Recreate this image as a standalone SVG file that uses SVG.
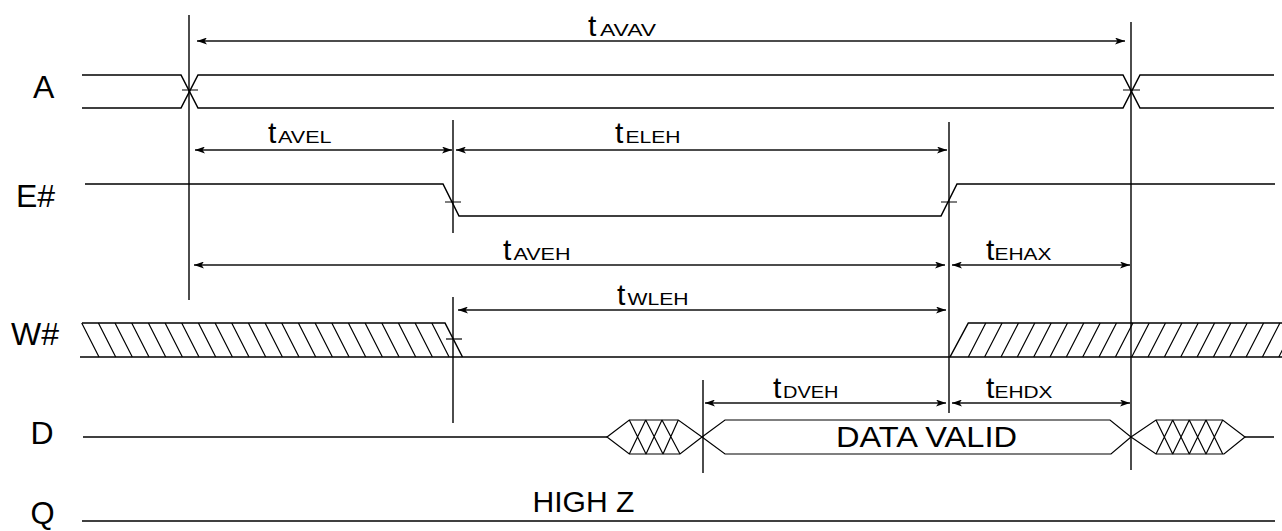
<svg xmlns="http://www.w3.org/2000/svg" width="1282" height="531" viewBox="0 0 1282 531">
<style>
.sig{fill:none;stroke:#000;stroke-width:1.5;stroke-linejoin:miter}
.thin{fill:none;stroke:#000;stroke-width:1.2}
.vl{stroke:#000;stroke-width:1.4}
.ar{stroke:#111;stroke-width:1.3;marker-start:url(#ah);marker-end:url(#ah)}
.lbl{font-family:"Liberation Sans",Arial,sans-serif;font-size:32px;fill:#000}
.big{font-family:"Liberation Sans",Arial,sans-serif;font-size:30px;fill:#000}
.t{font-family:"Liberation Sans",Arial,sans-serif;font-size:30px;fill:#000}
.sub{font-family:"Liberation Sans",Arial,sans-serif;font-size:17px;fill:#000}
</style>
<defs>
<marker id="ah" viewBox="0 0 10 7" refX="10" refY="3.5" markerWidth="10" markerHeight="7" markerUnits="userSpaceOnUse" orient="auto-start-reverse">
<path d="M0,0 L10,3.5 L0,7 L2.5,3.5 Z" fill="#000"/>
</marker>
</defs>
<rect width="1282" height="531" fill="#fff"/>

<g id="signal-A">
<text class="lbl" x="33" y="98">A</text>
<path class="sig" d="M82,75 H181 L198,108 H1123 L1140,75 H1274"/>
<path class="sig" d="M82,108 H181 L198,75 H1123 L1140,108 H1274"/>
<path class="thin" d="M182,90 H198 M1123,90 H1140"/>
</g>

<g id="signal-E">
<text class="lbl" x="16" y="207">E#</text>
<path class="sig" d="M85,184 H443 L459,216 H941 L957,184 H1275"/>
<path class="thin" d="M445,202 H461 M941,202 H957"/>
</g>

<g id="signal-W">
<text class="lbl" x="11" y="345">W#</text>
<path class="sig" d="M80,357 H1282"/>
<path class="sig" d="M82,323 H445 L462.5,357"/>
<path class="thin" d="M81.7,323 L99,357 M98.4,323 L115.7,357 M115,323 L132.3,357 M131.7,323 L149,357 M148.4,323 L165.7,357 M165.1,323 L182.4,357 M181.7,323 L199,357 M198.4,323 L215.7,357 M215.1,323 L232.4,357 M231.7,323 L249,357 M248.4,323 L265.7,357 M265.1,323 L282.4,357 M281.7,323 L299,357 M298.4,323 L315.7,357 M315.1,323 L332.4,357 M331.8,323 L349.1,357 M348.4,323 L365.7,357 M365.1,323 L382.4,357 M381.8,323 L399.1,357 M398.4,323 L415.7,357 M415.1,323 L432.4,357 M431.8,323 L449.1,357"/>
<path class="thin" d="M446,339 H462"/>
<path class="sig" d="M950,357 L968.3,323 H1282"/>
<path class="thin" d="M968.3,357 L985.8,323 M984.6,357 L1002.1,323 M1001,357 L1018.5,323 M1017.3,357 L1034.8,323 M1033.7,357 L1051.2,323 M1050,357 L1067.5,323 M1066.3,357 L1083.8,323 M1082.7,357 L1100.2,323 M1099,357 L1116.5,323 M1115.4,357 L1132.9,323 M1131.7,357 L1149.2,323 M1148,357 L1165.5,323 M1164.4,357 L1181.9,323 M1180.7,357 L1198.2,323 M1197.1,357 L1214.6,323 M1213.4,357 L1230.9,323 M1229.7,357 L1247.2,323 M1246.1,357 L1263.6,323 M1262.4,357 L1279.9,323 M1278.8,357 L1296.3,323"/>
</g>

<g id="signal-D">
<text class="lbl" x="30.5" y="444">D</text>
<path class="sig" d="M83,437 H607"/>
<path class="thin" d="M607,437 L629.3,420 H678.3 L702,437 L680,454 H629.3 Z"/>
<path class="thin" d="M629.3,420 L646,454 M645.7,420 L629.3,454 M645.7,420 L663,454 M662,420 L646,454 M662,420 L680,454 M678.3,420 L663,454"/>
<path class="thin" d="M702,437 L725,420 H1110 L1131,437 L1111,454 H725 Z"/>
<text class="big" x="836" y="447" textLength="181" lengthAdjust="spacingAndGlyphs">DATA VALID</text>
<path class="thin" d="M1131,437 L1156,420 H1222.7 L1245,437 L1224,454 H1156 Z"/>
<path class="thin" d="M1156,420 L1172.7,454 M1172.7,420 L1156,454 M1172.7,420 L1189.3,454 M1189.3,420 L1172.7,454 M1189.3,420 L1206,454 M1206,420 L1189.3,454 M1206,420 L1222.7,454 M1222.7,420 L1206,454"/>
<path class="sig" d="M1245,437 H1274"/>
</g>

<g id="signal-Q">
<text class="lbl" x="30.5" y="524" style="font-size:31px">Q</text>
<path class="sig" d="M82,521 H1275"/>
<text class="big" x="532.5" y="512" textLength="102" lengthAdjust="spacingAndGlyphs">HIGH Z</text>
</g>

<g id="connectors">
<line class="vl" x1="189" y1="15" x2="189" y2="300"/>
<line class="vl" x1="453" y1="120" x2="453" y2="233"/>
<line class="vl" x1="453" y1="297" x2="453" y2="423"/>
<line class="vl" x1="949" y1="122" x2="949" y2="413"/>
<line class="vl" x1="1131" y1="22" x2="1131" y2="470"/>
<line class="vl" x1="703" y1="380" x2="703" y2="473"/>

<line class="ar" x1="197" y1="41" x2="1125" y2="41"/>
<line class="ar" x1="195" y1="150" x2="452" y2="150"/>
<line class="ar" x1="456" y1="150" x2="947" y2="150"/>
<line class="ar" x1="194" y1="265" x2="945" y2="265"/>
<line class="ar" x1="952" y1="265" x2="1130" y2="265"/>
<line class="ar" x1="458" y1="310" x2="946" y2="310"/>
<line class="ar" x1="705" y1="403" x2="946" y2="403"/>
<line class="ar" x1="952" y1="403" x2="1130" y2="403"/>
</g>

<g id="timing-labels">
<text class="t" x="588" y="36">t</text><text class="sub" x="600" y="36" textLength="56" lengthAdjust="spacingAndGlyphs">AVAV</text>
<text class="t" x="268" y="143">t</text><text class="sub" x="278" y="143" textLength="53.5" lengthAdjust="spacingAndGlyphs">AVEL</text>
<text class="t" x="615" y="143">t</text><text class="sub" x="625.5" y="143" textLength="55" lengthAdjust="spacingAndGlyphs">ELEH</text>
<text class="t" x="503" y="260">t</text><text class="sub" x="513.5" y="260" textLength="57" lengthAdjust="spacingAndGlyphs">AVEH</text>
<text class="t" x="986" y="260">t</text><text class="sub" x="994.5" y="260" textLength="57" lengthAdjust="spacingAndGlyphs">EHAX</text>
<text class="t" x="617" y="305">t</text><text class="sub" x="627.5" y="305" textLength="61" lengthAdjust="spacingAndGlyphs">WLEH</text>
<text class="t" x="773" y="398">t</text><text class="sub" x="783" y="398" textLength="55.5" lengthAdjust="spacingAndGlyphs">DVEH</text>
<text class="t" x="986" y="398">t</text><text class="sub" x="994.5" y="398" textLength="58" lengthAdjust="spacingAndGlyphs">EHDX</text>
</g>
</svg>
